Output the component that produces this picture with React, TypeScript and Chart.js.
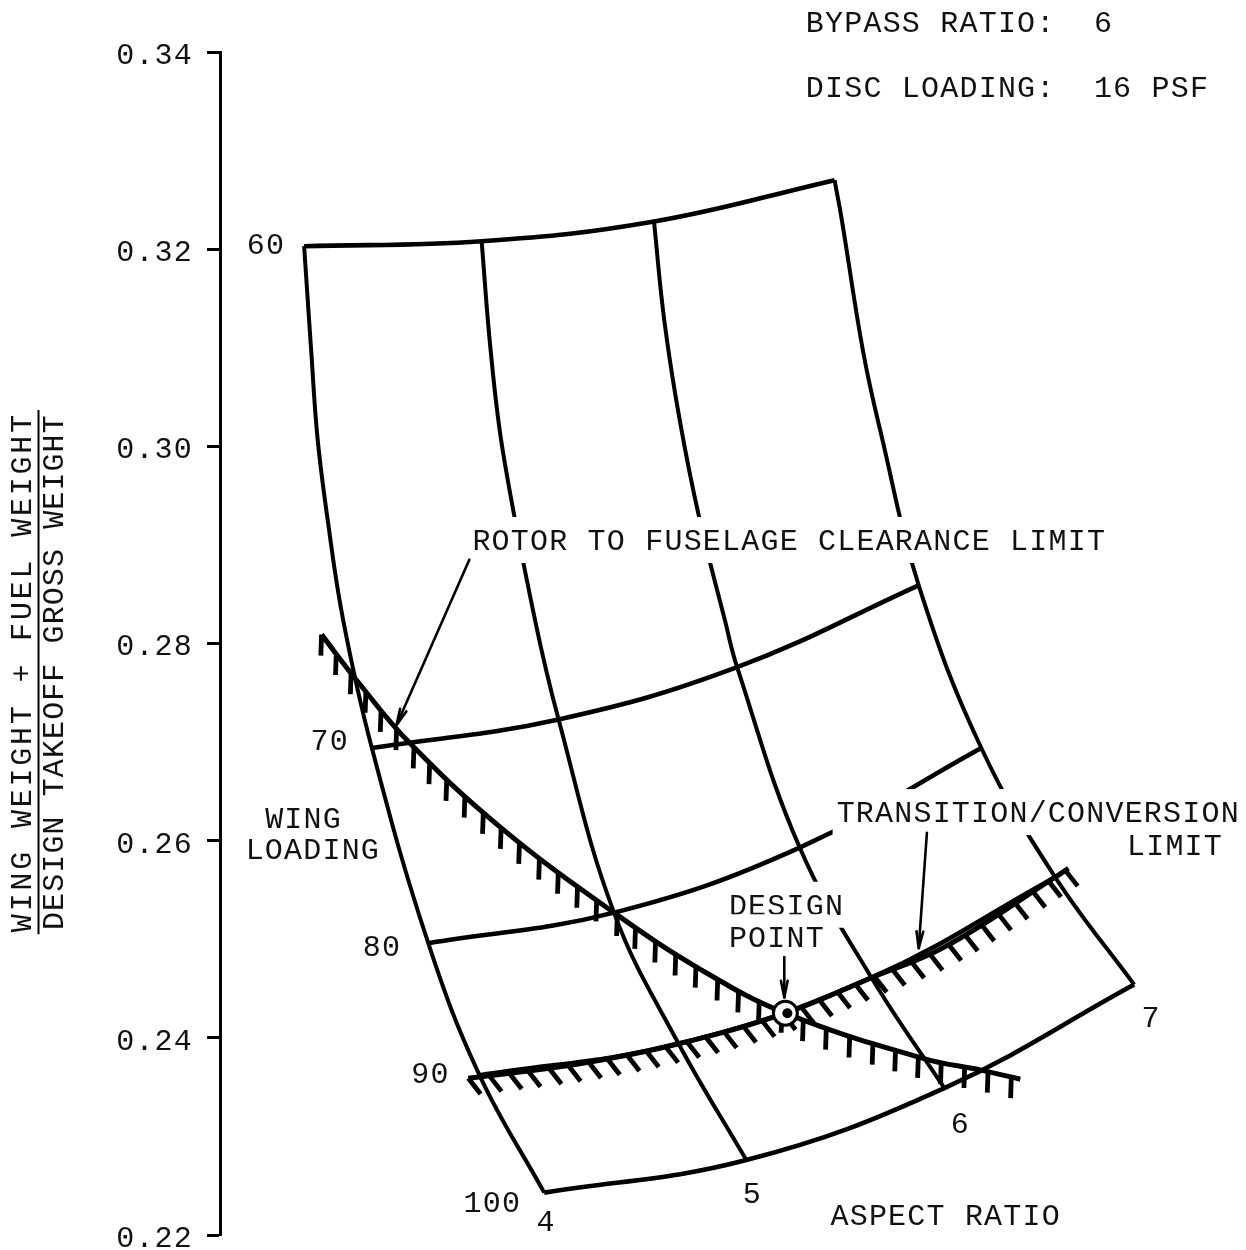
import { useEffect, useRef } from "react";
import { Chart, registerables } from "chart.js";

Chart.register(...registerables);

// ---------- DATA ----------
const aspectRatios = [4, 5, 6, 7];
const wingLoadings = [60, 70, 80, 90, 100];

// (wing weight + fuel weight) / design takeoff gross weight at each grid node,
// one array per wing loading, ordered by aspect ratio 4..7
const fractionWL60 = [0.3203, 0.3208, 0.3228, 0.327];
const fractionWL70 = [0.2694, 0.2723, 0.2776, 0.2859];
const fractionWL80 = [0.2496, 0.2527, 0.2593, 0.2694];
const fractionWL90 = [0.2362, 0.2394, 0.2461, 0.2563];
const fractionWL100 = [0.2243, 0.2276, 0.2349, 0.2454];

// carpet offsets (horizontal, arbitrary units 0..100)
const offsetWL60 = [8.2, 25.5, 42.3, 59.9];
const offsetWL70 = [14.8, 33.0, 50.4, 68.1];
const offsetWL80 = [20.3, 38.4, 56.5, 74.2];
const offsetWL90 = [25.3, 44.7, 63.5, 81.4];
const offsetWL100 = [31.6, 51.3, 70.6, 89.1];

// extra points read along each aspect-ratio curve between wing loading 60 and 70
const ar4MidOffset = [8.9, 9.5, 10.5, 12.0];
const ar4MidFraction = [0.3095, 0.3009, 0.2925, 0.2824];
const ar5MidOffset = [26.4, 27.6, 30.7];
const ar5MidFraction = [0.3095, 0.2993, 0.2824];
const ar6MidOffset = [43.3, 44.8, 46.7, 49.2];
const ar6MidFraction = [0.3128, 0.3027, 0.2928, 0.2824];
const ar7MidOffset = [60.6, 62.7, 64.4];
const ar7MidFraction = [0.323, 0.3095, 0.3014];

// rotor to fuselage clearance limit
const rotorOffset = [9.9, 13.3, 18.4, 27.4, 38.4, 46.9, 55.1, 68.6, 74.3, 78.0];
const rotorFraction = [0.2809, 0.2763, 0.27, 0.2613, 0.2527, 0.2469, 0.2425, 0.2379, 0.2367, 0.2358];

// transition / conversion limit
const transOffset = [24.2, 35.2, 44.7, 55.1, 63.5, 70.6, 81.4, 82.7];
const transFraction = [0.2359, 0.2374, 0.2394, 0.2425, 0.2461, 0.2492, 0.2563, 0.2572];

// design point
const designOffset = [55.1];
const designFraction = [0.2425];

// y tick range
const yMin = 0.22;
const yMax = 0.34;
const yStep = 0.02;

// ---------- STYLE / LAYOUT ----------
const FONT = '"Liberation Mono", "Courier New", monospace';
const FONT_SIZE = 30;
const TEXT_DY = 2;

const wlLabelOffsets = [
  { dx: -19, dy: -2 },
  { dx: -23, dy: -8 },
  { dx: -27, dy: 3 },
  { dx: -30, dy: -2 },
  { dx: -23, dy: 9 },
];
const arLabelOffsets = [
  { dx: 2, dy: 28 },
  { dx: 6, dy: 33 },
  { dx: 16, dy: 35 },
  { dx: 17, dy: 32 },
];

const annotations = [
  { text: "BYPASS RATIO:  6", x: 57.1, y: 0.343 },
  { text: "DISC LOADING:  16 PSF", x: 57.1, y: 0.3364 },
  { text: "ROTOR TO FUSELAGE CLEARANCE LIMIT", x: 24.6, y: 0.2905, mask: true },
  { text: "TRANSITION/CONVERSION", x: 60.1, y: 0.2629, mask: true },
  { text: "LIMIT", x: 88.4, y: 0.2596 },
  { text: "DESIGN", x: 49.6, y: 0.2535, mask: true },
  { text: "POINT", x: 49.6, y: 0.2502, mask: true },
  { text: "WING", x: 4.4, y: 0.2623 },
  { text: "LOADING", x: 2.5, y: 0.2591 },
  { text: "ASPECT RATIO", x: 59.5, y: 0.222 },
];

const arrows = [
  { x0: 24.3, y0: 0.2885, x1: 17.2, y1: 0.2717 },
  { x0: 68.9, y0: 0.2608, x1: 68.1, y1: 0.2491 },
  { x0: 55.0, y0: 0.2482, x1: 55.0, y1: 0.2441 },
];

const titleTop = "WING WEIGHT + FUEL WEIGHT";
const titleBottom = "DESIGN TAKEOFF GROSS WEIGHT";
const titleCenterValue = 0.2771;

const WIDTH = 1246;
const HEIGHT = 1250;

function drawArrow(ctx: CanvasRenderingContext2D, x0: number, y0: number, x1: number, y1: number) {
  ctx.beginPath();
  ctx.moveTo(x0, y0);
  ctx.lineTo(x1, y1);
  ctx.stroke();
  const a = Math.atan2(y1 - y0, x1 - x0);
  const L = 17;
  const w = 0.2;
  ctx.beginPath();
  ctx.moveTo(x1 - L * Math.cos(a - w), y1 - L * Math.sin(a - w));
  ctx.lineTo(x1, y1);
  ctx.lineTo(x1 - L * Math.cos(a + w), y1 - L * Math.sin(a + w));
  ctx.stroke();
}

const hatchPlugin = {
  id: "hatch",
  afterDatasetDraw(chart: any, args: any) {
    const ds = chart.data.datasets[args.index];
    if (!ds.hatch) return;
    const pts = args.meta.data;
    if (!pts || pts.length < 2) return;
    const { angle, length, spacing } = ds.hatch;
    const dx = Math.cos((angle * Math.PI) / 180);
    const dy = Math.sin((angle * Math.PI) / 180);
    const samples: number[][] = [];
    for (let i = 0; i < pts.length - 1; i++) {
      const p0 = pts[i];
      const p1 = pts[i + 1];
      const c1x = p0.cp2x ?? p0.x;
      const c1y = p0.cp2y ?? p0.y;
      const c2x = p1.cp1x ?? p1.x;
      const c2y = p1.cp1y ?? p1.y;
      for (let s = i === 0 ? 0 : 1; s <= 60; s++) {
        const t = s / 60;
        const u = 1 - t;
        samples.push([
          u * u * u * p0.x + 3 * u * u * t * c1x + 3 * u * t * t * c2x + t * t * t * p1.x,
          u * u * u * p0.y + 3 * u * u * t * c1y + 3 * u * t * t * c2y + t * t * t * p1.y,
        ]);
      }
    }
    const ctx = chart.ctx;
    ctx.save();
    ctx.strokeStyle = "#000";
    ctx.lineWidth = 4.8;
    ctx.lineCap = "butt";
    let acc = 0;
    let next = 0;
    for (let k = 0; k < samples.length; k++) {
      if (k > 0) acc += Math.hypot(samples[k][0] - samples[k - 1][0], samples[k][1] - samples[k - 1][1]);
      if (acc >= next) {
        const [x, y] = samples[k];
        ctx.beginPath();
        ctx.moveTo(x, y);
        ctx.lineTo(x + dx * length, y + dy * length);
        ctx.stroke();
        next += spacing;
      }
    }
    ctx.restore();
  },
};

const textPlugin = {
  id: "carpetText",
  beforeDraw(chart: any) {
    chart.ctx.letterSpacing = "1.2px";
  },
  afterDatasetsDraw(chart: any) {
    const ctx: CanvasRenderingContext2D = chart.ctx;
    const xs = chart.scales.x;
    const ys = chart.scales.y;
    const X = (v: number) => xs.getPixelForValue(v);
    const Y = (v: number) => ys.getPixelForValue(v);
    const offsetRows = [offsetWL60, offsetWL70, offsetWL80, offsetWL90, offsetWL100];
    const fracRows = [fractionWL60, fractionWL70, fractionWL80, fractionWL90, fractionWL100];

    ctx.save();
    (ctx as any).letterSpacing = "1.2px";
    ctx.font = `${FONT_SIZE}px ${FONT}`;
    ctx.textBaseline = "middle";
    ctx.fillStyle = "#111";

    // annotations (with white masks where they break the grid lines)
    annotations.forEach((a: any) => {
      const x = X(a.x);
      const y = Y(a.y);
      const w = ctx.measureText(a.text).width;
      if (a.mask) {
        ctx.fillStyle = "#fff";
        ctx.fillRect(x - 4, y - 23, w + 8, 46);
        ctx.fillStyle = "#111";
      }
      ctx.textAlign = "left";
      ctx.fillText(a.text, x, y + TEXT_DY);
    });

    // wing loading labels
    wingLoadings.forEach((wl, i) => {
      const o = wlLabelOffsets[i];
      ctx.textAlign = "right";
      ctx.fillText(String(wl), X(offsetRows[i][0]) + o.dx, Y(fracRows[i][0]) + o.dy + TEXT_DY);
    });
    // aspect ratio labels
    aspectRatios.forEach((ar, j) => {
      const o = arLabelOffsets[j];
      ctx.textAlign = "center";
      ctx.fillText(String(ar), X(offsetRows[4][j]) + o.dx, Y(fracRows[4][j]) + o.dy + TEXT_DY);
    });

    // arrows
    ctx.strokeStyle = "#000";
    ctx.lineWidth = 2.6;
    ctx.lineCap = "round";
    ctx.lineJoin = "round";
    arrows.forEach((a) => drawArrow(ctx, X(a.x0), Y(a.y0), X(a.x1), Y(a.y1)));

    // y-axis fraction title
    const cy = Y(titleCenterValue);
    ctx.textAlign = "center";
    ctx.textBaseline = "middle";
    (ctx as any).letterSpacing = "2.8px";
    const wTop = ctx.measureText(titleTop).width;
    ctx.save();
    ctx.translate(23, cy);
    ctx.rotate(-Math.PI / 2);
    ctx.fillText(titleTop, 0, 0);
    ctx.restore();
    (ctx as any).letterSpacing = "1.1px";
    ctx.save();
    ctx.translate(55, cy);
    ctx.rotate(-Math.PI / 2);
    ctx.fillText(titleBottom, 0, 0);
    ctx.restore();
    ctx.beginPath();
    ctx.lineWidth = 2;
    ctx.lineCap = "butt";
    ctx.moveTo(38.5, cy - wTop / 2 - 2);
    ctx.lineTo(38.5, cy + wTop / 2 + 2);
    ctx.stroke();
    ctx.restore();
  },
  afterDraw(chart: any) {
    chart.ctx.letterSpacing = "0px";
  },
};

export default function App() {
  const ref = useRef<HTMLCanvasElement>(null);

  useEffect(() => {
    const canvas = ref.current;
    if (!canvas) return;
    const offsetRows = [offsetWL60, offsetWL70, offsetWL80, offsetWL90, offsetWL100];
    const fracRows = [fractionWL60, fractionWL70, fractionWL80, fractionWL90, fractionWL100];
    const midOffsets = [ar4MidOffset, ar5MidOffset, ar6MidOffset, ar7MidOffset];
    const midFractions = [ar4MidFraction, ar5MidFraction, ar6MidFraction, ar7MidFraction];

    const lineDS = (label: string, data: any[], width: number, extra: any = {}) => ({
      label,
      data,
      showLine: true,
      borderColor: "#000",
      borderWidth: width,
      pointRadius: 0,
      pointHoverRadius: 0,
      tension: 0.4,
      fill: false,
      borderJoinStyle: "round",
      order: 0,
      ...extra,
    });

    const datasets: any[] = [];
    wingLoadings.forEach((wl, i) => {
      datasets.push(
        lineDS(
          `Wing loading ${wl}`,
          aspectRatios.map((_, j) => ({ x: offsetRows[i][j], y: fracRows[i][j] })),
          4.6
        )
      );
    });
    aspectRatios.forEach((ar, j) => {
      const pts: any[] = [{ x: offsetRows[0][j], y: fracRows[0][j] }];
      midOffsets[j].forEach((o, k) => pts.push({ x: o, y: midFractions[j][k] }));
      for (let i = 1; i < wingLoadings.length; i++) pts.push({ x: offsetRows[i][j], y: fracRows[i][j] });
      datasets.push(lineDS(`Aspect ratio ${ar}`, pts, 4));
    });
    datasets.push(
      lineDS(
        "Rotor to fuselage clearance limit",
        rotorOffset.map((o, k) => ({ x: o, y: rotorFraction[k] })),
        5,
        { hatch: { angle: 92, length: 21, spacing: 24 } }
      )
    );
    datasets.push(
      lineDS(
        "Transition/conversion limit",
        transOffset.map((o, k) => ({ x: o, y: transFraction[k] })),
        5,
        { hatch: { angle: 52, length: 20, spacing: 20 } }
      )
    );
    datasets.push({
      label: "Design point",
      data: designOffset.map((o, k) => ({ x: o, y: designFraction[k] })),
      showLine: false,
      pointRadius: 12,
      pointHoverRadius: 12,
      pointBorderWidth: 3,
      pointBorderColor: "#000",
      pointBackgroundColor: "#fff",
      order: -1,
    });
    datasets.push({
      label: "Design point core",
      data: designOffset.map((o, k) => ({ x: o + 0.2, y: designFraction[k] })),
      showLine: false,
      pointRadius: 5,
      pointHoverRadius: 5,
      pointBorderWidth: 0,
      pointBackgroundColor: "#000",
      order: -2,
    });

    const chart = new Chart(canvas, {
      type: "scatter",
      data: { datasets },
      options: {
        animation: false,
        responsive: false,
        maintainAspectRatio: false,
        devicePixelRatio: 1,
        events: [],
        layout: { autoPadding: false, padding: { top: 52, right: 0, bottom: 15, left: 0 } },
        plugins: {
          legend: { display: false },
          tooltip: { enabled: false },
          title: { display: false },
        },
        scales: {
          x: { type: "linear", min: 0, max: 100, display: false },
          y: {
            type: "linear",
            position: "left",
            min: yMin,
            max: yMax,
            afterFit: (scale: any) => {
              scale.width = 220;
              scale.paddingTop = 0;
              scale.paddingBottom = 0;
            },
            ticks: {
              stepSize: yStep,
              color: "#111",
              padding: 14,
              labelOffset: 4,
              font: { family: FONT, size: FONT_SIZE },
              callback: (v: any) => Number(v).toFixed(2),
            },
            grid: {
              drawOnChartArea: false,
              drawTicks: true,
              tickLength: 13,
              tickWidth: 3,
              tickColor: "#000",
            },
            border: { display: true, color: "#000", width: 3 },
          },
        },
      } as any,
      plugins: [hatchPlugin, textPlugin] as any,
    });
    return () => chart.destroy();
  }, []);

  return (
    <div style={{ position: "absolute", left: 0, top: 0, width: WIDTH, height: HEIGHT, background: "#fff" }}>
      <canvas ref={ref} width={WIDTH} height={HEIGHT} style={{ display: "block", width: WIDTH, height: HEIGHT }} />
    </div>
  );
}
